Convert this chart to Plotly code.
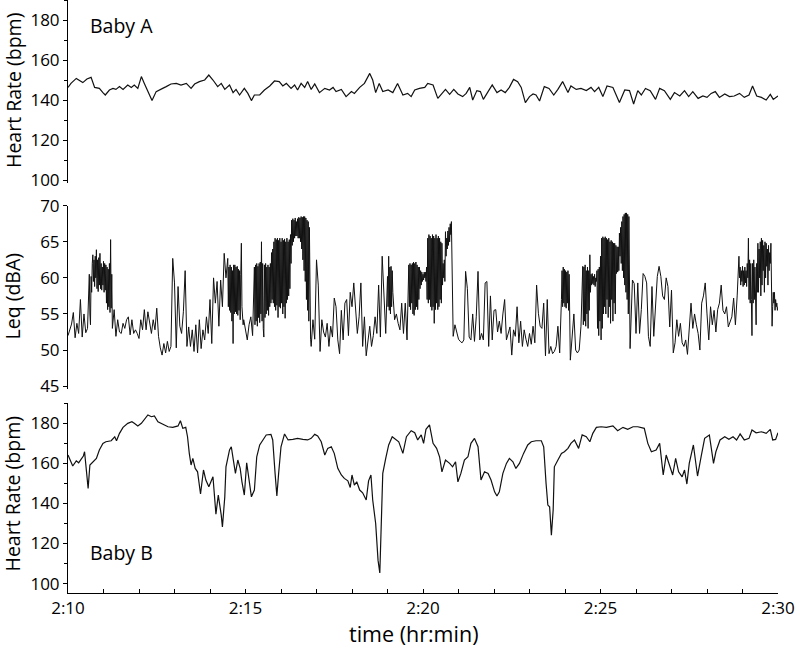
import plotly.graph_objects as go

# ---------------- data ----------------
# Baby A heart rate (seconds after 2:10:00, bpm)
hr_a_sec = [0, 5, 14, 22, 25, 32, 39, 45, 53, 59, 63, 70, 76, 81, 87, 93, 101, 107, 112, 118,
            124, 129, 135, 142, 149, 155, 160, 166, 174, 183, 191, 200, 208, 214, 222, 231, 238, 245, 253, 259,
            265, 273, 279, 284, 290, 298, 304, 310, 315, 324, 332, 341, 349, 357, 363, 369, 377, 383, 388, 394,
            400, 405, 411, 417, 425, 434, 442, 448, 453, 462, 470, 479, 484, 493, 501, 510, 515, 520, 526, 532,
            541, 549, 557, 566, 574, 580, 586, 594, 603, 608, 617, 625, 631, 638, 645, 652, 659, 667, 673, 679,
            684, 691, 697, 702, 710, 717, 725, 732, 739, 746, 753, 760, 766, 773, 780, 786, 791, 797, 805, 813,
            821, 828, 836, 845, 850, 859, 867, 876, 884, 890, 897, 904, 911, 921, 932, 941, 949, 956, 963, 969,
            976, 984, 993, 1000, 1008, 1018, 1025, 1034, 1042, 1049, 1056, 1065, 1073, 1080, 1087, 1094, 1101, 1110, 1118, 1126,
            1135, 1143, 1151, 1157, 1164, 1172, 1180, 1187, 1192, 1200]
hr_a_bpm = [146.3, 148.3, 150.8, 149.5, 148.7, 150.5, 151.3, 146.3, 145.8, 143.7, 142.5, 145.0, 145.8, 145.3, 146.7, 145.3, 147.5, 146.3, 147.5, 145.8,
            151.7, 148.3, 144.2, 139.7, 144.2, 145.3, 145.8, 146.7, 148.0, 148.3, 147.5, 148.3, 145.8, 148.0, 149.2, 150.0, 152.5, 150.0, 146.7, 148.3,
            145.3, 147.5, 143.7, 145.3, 142.5, 145.8, 143.3, 139.7, 142.5, 142.5, 145.0, 147.0, 149.5, 149.2, 147.0, 148.3, 145.8, 147.5, 145.0, 148.3,
            146.3, 149.2, 145.3, 148.0, 143.7, 145.8, 145.0, 146.3, 144.2, 145.3, 141.7, 144.2, 143.3, 146.3, 148.3, 153.3, 150.0, 143.7, 148.3, 144.2,
            145.0, 143.7, 148.3, 142.5, 143.3, 141.7, 145.0, 145.8, 146.3, 148.3, 147.5, 140.8, 143.0, 145.3, 142.8, 145.3, 143.0, 141.7, 143.3, 146.3,
            140.0, 144.7, 144.2, 140.3, 144.2, 147.5, 143.7, 145.0, 143.7, 146.3, 150.3, 149.2, 146.3, 138.7, 141.7, 143.0, 142.5, 139.5, 146.7, 145.8,
            142.5, 145.3, 149.2, 143.7, 147.0, 145.3, 145.8, 144.7, 146.3, 144.2, 146.3, 141.7, 147.0, 146.3, 138.7, 145.0, 144.7, 138.0, 144.7, 142.5,
            145.8, 144.7, 140.3, 145.8, 144.7, 140.3, 143.7, 142.0, 144.7, 141.7, 144.2, 140.8, 142.0, 141.3, 143.3, 144.2, 141.3, 143.0, 141.7, 142.0,
            143.3, 141.3, 142.5, 147.0, 142.0, 141.3, 140.0, 142.8, 140.3, 142.0]

# Sound level Leq (dBA): runs of (start second, step in seconds, values).
# Sparse stretches were read every 3 s, the dense bursts every 1 s.
leq_runs = [
    (0, 3, [52.0, 52.8, 53.6, 55.2, 51.7, 53.7, 52.3, 57.0, 51.8, 55.0, 52.4, 53.0]),
    (36, 1, [60.5, 55.0, 53.5, 60.2, 58.0, 62.0, 63.2, 59.5, 62.5, 58.8,
             63.0, 60.0, 63.9, 58.5, 62.5, 58.1, 62.8, 59.0, 63.4, 58.5,
             62.0, 58.3, 61.5, 59.0, 62.3, 58.0, 62.0, 58.3, 61.8, 56.5,
             61.5, 55.6, 61.2, 56.0, 62.0, 55.2, 65.3, 55.8, 60.5]),
    (75, 3, [53.0, 55.6, 51.9, 54.2, 52.5, 52.3, 53.7, 53.0, 54.2, 54.6,
             52.1, 54.2, 52.3, 52.8, 52.3, 51.6, 54.2, 52.8, 55.6, 52.8,
             55.3, 53.7, 52.3, 54.2, 52.8, 55.8, 51.9, 50.3, 49.3, 50.9,
             49.6, 51.2, 49.8, 50.5, 62.7, 59.3, 50.3, 58.8, 53.3, 52.3,
             55.3, 61.0, 50.5, 53.2, 50.5, 52.8, 49.8, 53.5, 49.6, 54.2,
             50.2, 52.8, 51.4, 54.6, 52.3, 57.0, 50.9, 60.0, 56.5, 59.5,
             53.3, 59.7, 56.0, 63.4, 60.0]),
    (270, 1, [62.7, 56.0, 61.5, 55.5, 61.8, 55.2, 61.5, 54.0, 61.0, 50.9,
              61.8, 55.0, 61.8, 55.3, 61.5, 55.0, 61.6, 54.8, 61.2, 55.5,
              61.0, 54.2, 60.5, 64.8, 56.0, 54.2, 53.5]),
    (297, 3, [54.2, 52.5, 51.4, 53.5, 54.6, 52.0]),
    (315, 1, [61.5, 53.5, 61.8, 54.0, 62.0, 53.3, 61.6, 54.5, 62.0, 53.8,
              62.2, 55.0, 65.0, 54.0, 62.0, 53.0, 51.8, 61.8, 54.5, 62.0,
              55.0, 61.5, 55.5, 61.8, 54.8, 61.5, 56.0, 62.0, 56.5, 63.5,
              57.0, 64.0, 56.5, 65.0, 56.0, 65.5, 55.5, 65.3, 56.2, 65.5,
              54.5, 65.2, 56.0, 65.5, 55.8, 65.0, 56.5, 65.5, 55.0, 65.2,
              56.0, 65.4, 54.4, 65.0, 56.5, 65.5, 57.0, 65.0, 57.5, 65.3,
              58.5, 66.0, 62.0, 68.0, 64.5, 68.2, 65.0, 68.0, 65.5, 68.3,
              65.8, 67.8, 65.8, 68.2, 65.5, 68.4, 65.5, 68.3, 65.0, 68.5,
              64.0, 68.4, 62.5, 68.5, 61.0, 68.5, 59.5, 68.3, 57.0, 68.0,
              55.5, 67.8, 54.0, 67.0, 52.8, 51.5]),
    (411, 3, [50.5, 54.2, 51.5, 62.5, 59.0, 49.8, 54.2, 52.5, 51.8, 53.7,
              50.5, 53.3, 51.8, 57.2, 56.0, 51.4, 49.5, 55.5, 51.4, 56.5,
              57.0, 52.0, 58.0, 56.0, 59.3, 55.0, 52.3, 54.6, 59.3, 50.5,
              54.6, 49.2, 51.0, 53.3, 50.5, 52.0, 54.6, 52.3, 59.0, 51.8,
              63.0, 56.5, 52.3]),
    (540, 1, [60.2, 56.0, 63.0, 55.5, 61.5, 55.0, 61.6, 56.0, 61.0]),
    (549, 3, [58.0, 54.2, 55.0, 53.7, 52.8, 56.5, 52.3, 56.5, 51.4]),
    (576, 1, [61.8, 56.0, 62.0, 55.6, 61.8, 56.5, 62.0, 55.0, 62.2, 54.8,
              62.0, 55.6, 62.2, 56.0, 61.8, 55.6, 61.5, 57.0, 61.5, 58.5,
              61.0, 59.0, 60.8, 59.5, 60.5, 59.7, 60.8, 60.0, 60.8, 59.5,
              61.5, 57.0, 65.5, 56.5, 66.0, 57.0, 65.8, 56.0, 65.5, 55.5,
              66.0, 56.0, 65.8, 53.7, 65.5, 55.6, 66.0, 56.5, 65.5, 55.6,
              65.8, 56.0, 65.5, 57.0, 65.0, 56.5, 64.8, 59.0, 62.0, 60.0,
              62.5, 59.5, 66.4, 63.0, 65.5, 64.0, 66.5, 64.5, 67.0, 65.0,
              67.5, 66.0, 67.8, 62.0, 55.0]),
    (651, 3, [51.9, 53.5, 52.3, 51.5, 51.2, 51.0, 51.4, 60.9, 58.5, 51.8,
              51.4, 55.0, 51.2, 54.6, 60.9, 51.4, 52.3, 51.4, 59.3, 59.5,
              50.5, 57.5, 51.4, 55.5, 55.6, 52.5, 54.0, 52.3, 55.0, 57.0,
              51.4, 52.5, 53.2, 49.3, 52.8, 51.9, 56.0, 51.0, 54.0, 50.5,
              52.8, 51.5, 50.5, 52.3, 50.8, 53.3, 51.0, 59.0, 55.1, 53.3,
              53.0, 56.5, 49.2, 57.0, 49.5, 50.5, 49.5, 49.8, 50.5, 53.3,
              49.6]),
    (834, 1, [57.0, 61.0, 56.0, 61.5, 56.5, 61.2, 56.0, 61.0, 55.8, 60.8, 56.5, 61.0, 55.5, 60.5]),
    (849, 3, [48.6, 51.4, 55.0, 50.0, 49.6, 50.0, 53.3]),
    (870, 1, [61.6, 53.5, 61.5, 54.0, 61.8, 53.3, 61.0, 55.0, 61.5, 53.0,
              61.0, 55.5, 63.2, 58.0, 60.5, 59.0, 60.6, 59.2, 60.2, 59.0,
              60.5, 58.8, 60.0, 59.5, 61.0, 53.0, 61.2, 52.0, 61.5, 54.0,
              63.0, 51.4, 65.5, 53.0, 65.7, 55.0, 65.5, 56.0, 65.7, 55.0,
              65.5, 57.0, 65.3, 54.5, 65.5, 56.0, 65.0, 53.7, 65.2, 57.0,
              65.0, 54.0, 64.8, 56.5, 64.8, 55.0, 64.5, 60.6, 64.3, 60.8,
              64.3, 61.0, 66.2, 63.0, 67.0, 62.0, 67.8, 61.0, 68.5, 60.0,
              68.8, 59.0, 69.0, 58.0, 69.0, 57.0, 68.8, 55.0, 68.5, 53.0,
              50.2]),
    (954, 3, [59.7, 59.2, 52.3, 59.3, 52.3, 55.6, 60.6, 60.2, 59.3, 51.9,
              50.5, 58.8, 51.9, 56.0, 60.2, 61.6, 60.2, 57.5, 57.0, 60.0,
              58.8, 53.2, 58.3, 49.6, 51.0, 54.2, 51.9, 53.7, 51.0, 50.5,
              51.4, 49.4, 52.8, 56.5, 53.0, 55.0, 53.5, 52.3, 50.0, 56.5,
              57.5, 59.3, 55.0, 51.4, 56.0, 53.5, 55.5, 52.5, 55.6, 56.5,
              59.0, 55.5, 55.0, 56.0, 53.2, 54.0, 54.6, 57.2, 53.5, 57.5]),
    (1134, 1, [63.0, 60.0, 61.5, 59.0, 61.0, 59.5, 61.6, 58.8, 61.0, 59.0,
               61.5, 59.3, 61.0, 58.8, 62.0, 60.0, 65.5, 57.0, 62.5, 56.5,
               62.0, 57.0, 52.0, 62.0, 56.5, 62.5, 57.0, 61.5, 56.5, 53.5,
               62.0, 58.0, 64.8, 58.0, 64.0, 60.0, 65.0, 57.5, 65.5, 59.0,
               65.2, 61.0, 64.5, 58.0, 65.0, 60.0, 64.8, 61.6, 64.0, 59.0,
               64.5, 61.0, 63.5, 62.0, 64.8, 60.0, 53.3, 56.0, 58.0, 56.5,
               58.0, 55.5, 57.0, 56.0, 56.5, 55.5, 56.0]),
]

# Baby B heart rate (seconds after 2:10:00, bpm)
hr_b_sec = [0, 4, 8, 14, 18, 22, 26, 28, 32, 34, 37, 42, 48, 53, 59, 64, 73, 79, 82, 87,
            93, 101, 108, 112, 118, 124, 129, 135, 141, 146, 152, 160, 169, 177, 186, 190, 194, 199, 202, 205,
            208, 211, 215, 219, 224, 229, 233, 238, 245, 250, 254, 259, 261, 265, 267, 273, 276, 279, 283, 287,
            291, 294, 298, 302, 307, 310, 315, 319, 324, 329, 335, 343, 346, 350, 353, 356, 360, 366, 372, 380,
            388, 397, 405, 411, 417, 422, 428, 434, 439, 445, 450, 456, 462, 467, 473, 477, 480, 484, 488, 493,
            498, 504, 508, 512, 515, 520, 524, 527, 529, 532, 537, 542, 548, 555, 559,
            560, 566, 572, 580, 586, 591, 597, 601, 605, 611, 617, 623, 628, 632, 638, 645, 650, 655, 659, 664,
            670, 676, 681, 687, 693, 698, 704, 710, 715, 721, 725, 729, 735, 741, 746, 752, 757, 763, 770, 777,
            783, 791, 800, 804, 808, 811, 814, 817, 820, 822, 828, 834, 839, 845, 850, 856, 863, 869, 876, 882,
            887, 893, 901, 910, 921, 929, 938, 946, 955, 963, 974, 980, 986, 994, 1000, 1006, 1011, 1017, 1022, 1027,
            1032, 1038, 1042, 1046, 1050, 1057, 1064, 1070, 1076, 1084, 1091, 1095, 1102, 1110, 1117, 1124, 1130, 1136, 1143, 1151,
            1156, 1163, 1172, 1180, 1187, 1191, 1196, 1200]
hr_b_bpm = [164.2, 161.7, 158.7, 161.3, 160.3, 162.0, 163.7, 165.8, 151.7, 147.5, 159.2, 160.8, 162.5, 166.7, 170.0, 170.8, 171.3, 173.3, 171.3, 175.0,
            178.0, 180.0, 180.8, 180.0, 178.7, 180.0, 182.0, 184.2, 183.3, 183.7, 180.8, 179.5, 178.3, 178.0, 178.7, 181.3, 177.5, 178.0, 173.3, 165.0,
            159.2, 162.5, 157.5, 155.8, 144.7, 156.7, 151.7, 148.3, 153.3, 134.7, 144.2, 134.2, 128.3, 143.3, 158.3, 166.7, 168.3, 162.5, 155.0, 161.7,
            157.5, 150.8, 144.2, 160.3, 150.0, 143.3, 146.7, 163.3, 169.2, 171.7, 174.2, 174.5, 171.7, 155.0, 143.7, 155.0, 168.3, 174.7, 171.7, 172.0,
            172.5, 172.0, 171.7, 172.5, 174.5, 173.7, 170.8, 164.2, 167.5, 168.3, 165.0, 157.5, 154.2, 152.5, 151.3, 148.0, 154.2, 149.2, 150.8, 146.7,
            145.3, 141.7, 151.3, 154.2, 141.7, 130.0, 111.7, 105.3, 123.3, 155.0, 162.5, 169.2, 173.3, 171.7, 170.8,
            170.0, 165.0, 173.3, 176.3, 175.3, 171.7, 174.2, 170.0, 177.0, 179.2, 170.0, 167.5, 163.3, 155.8, 161.7, 160.0, 158.3, 160.8, 150.8, 155.0,
            161.7, 163.3, 170.0, 172.5, 168.3, 151.7, 155.8, 155.0, 151.7, 145.8, 143.7, 145.8, 155.0, 160.0, 162.5, 160.8, 157.5, 160.0, 165.0, 169.2,
            170.8, 171.3, 171.3, 168.3, 150.0, 139.2, 138.3, 124.2, 136.7, 158.3, 161.7, 165.0, 165.8, 167.5, 170.0, 171.7, 167.5, 174.2, 173.3, 170.8,
            175.0, 178.0, 178.3, 178.0, 178.7, 176.3, 178.0, 177.0, 178.3, 178.3, 177.5, 170.0, 165.8, 166.7, 170.0, 154.2, 164.2, 158.3, 154.2, 162.5,
            155.8, 153.3, 156.7, 149.7, 160.0, 169.2, 153.7, 163.3, 172.5, 174.2, 160.0, 165.8, 171.7, 173.3, 172.0, 173.3, 171.7, 174.7, 171.7, 172.5,
            176.7, 175.3, 175.8, 175.0, 177.0, 171.7, 172.0, 175.3]

x_tick_minutes = list(range(0, 21))
x_tick_labels = ["2:10", "", "", "", "", "2:15", "", "", "", "", "2:20",
                 "", "", "", "", "2:25", "", "", "", "", "2:30"]

# ---------------- figure ----------------
FONT = "Open Sans, Liberation Sans, sans-serif"
INK = "#111111"

leq_sec, leq_dba = [], []
for start, step, vals in leq_runs:
    for i, v in enumerate(vals):
        leq_sec.append(start + i * step)
        leq_dba.append(v)

fig = go.Figure()
fig.add_trace(go.Scatter(x=[s / 60 for s in hr_a_sec], y=hr_a_bpm, mode="lines",
                         line=dict(color=INK, width=1.2), xaxis="x", yaxis="y", showlegend=False))
fig.add_trace(go.Scatter(x=[s / 60 for s in leq_sec], y=leq_dba, mode="lines",
                         line=dict(color=INK, width=1.0), xaxis="x", yaxis="y2", showlegend=False))
fig.add_trace(go.Scatter(x=[s / 60 for s in hr_b_sec], y=hr_b_bpm, mode="lines",
                         line=dict(color=INK, width=1.2), xaxis="x", yaxis="y3", showlegend=False))

tick_font = dict(family=FONT, size=17, color="black")
yaxis_common = dict(anchor="x", showline=True, linecolor="black", linewidth=1, automargin=False,
                    ticks="outside", ticklen=4, tickcolor="black", showgrid=False, zeroline=False,
                    tickfont=tick_font)
minor_hr = dict(tick0=0, dtick=10, ticks="outside", ticklen=3, tickcolor="black", showgrid=False)
label_font = dict(family=FONT, size=19.5, color="black")

fig.update_layout(
    template="none",
    width=800, height=648,
    margin=dict(l=68, r=22, t=0, b=55, pad=0),
    paper_bgcolor="white", plot_bgcolor="white",
    font=dict(family=FONT, color="black"),
    xaxis=dict(domain=[0, 1], range=[0, 20], anchor="y3", showline=True, linecolor="black", linewidth=1,
               automargin=False, ticks="inside", ticklen=4, tickcolor="black", tickmode="array",
               tickvals=x_tick_minutes, ticktext=x_tick_labels, showgrid=False, zeroline=False,
               tickfont=tick_font),
    yaxis=dict(domain=[0.6914, 1.0], range=[98.5, 190], tick0=0, dtick=20, minor=minor_hr, **yaxis_common),
    yaxis2=dict(domain=[0.344, 0.6531], range=[44.6, 70], tick0=0, dtick=5, **yaxis_common),
    yaxis3=dict(domain=[0.0, 0.3199], range=[95.3, 190], tick0=0, dtick=20, minor=minor_hr, **yaxis_common),
    annotations=[
        dict(text="Baby A", xref="paper", yref="paper", x=0.0282, y=0.9562, xanchor="left", yanchor="middle",
             showarrow=False, font=label_font),
        dict(text="Baby B", xref="paper", yref="paper", x=0.0282, y=0.0675, xanchor="left", yanchor="middle",
             showarrow=False, font=label_font),
        dict(text="Heart Rate (bpm)", xref="paper", yref="paper", x=-0.0775, y=0.8482, textangle=-90,
             xanchor="center", yanchor="middle", showarrow=False, borderpad=0, font=label_font),
        dict(text="Leq (dBA)", xref="paper", yref="paper", x=-0.0775, y=0.5, textangle=-90,
             xanchor="center", yanchor="middle", showarrow=False, borderpad=0, font=label_font),
        dict(text="Heart Rate (bpm)", xref="paper", yref="paper", x=-0.0775, y=0.1678, textangle=-90,
             xanchor="center", yanchor="middle", showarrow=False, borderpad=0, font=label_font),
        dict(text="time (hr:min)", xref="paper", yref="paper", x=0.4873, y=-0.0683,
             xanchor="center", yanchor="middle", showarrow=False, borderpad=0,
             font=dict(family=FONT, size=21.5, color="black")),
    ],
)

# remove the browser's default page margin so the figure sits at the window's corner
fig.write_html("out.html", config={"displayModeBar": False},
               post_script="document.body.style.margin='0';")
